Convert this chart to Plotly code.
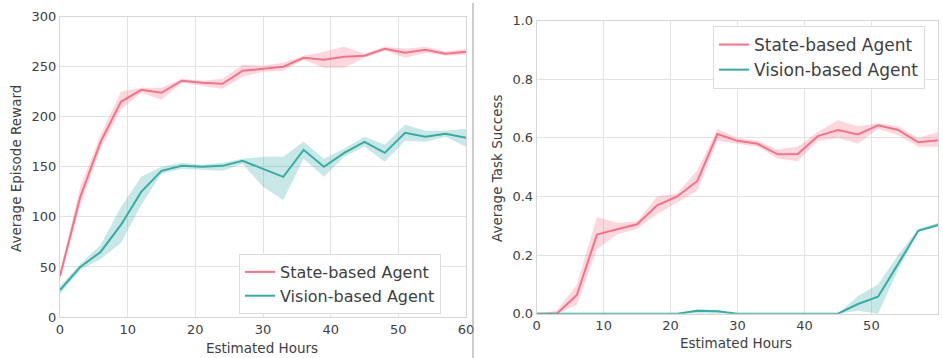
import plotly.graph_objects as go

# Training time in hours (evaluation every 3 hours)
hours = [0, 3, 6, 9, 12, 15, 18, 21, 24, 27, 30, 33, 36, 39, 42, 45, 48, 51, 54, 57, 60]

# Average episode reward
reward_state = [41, 120, 175, 215, 227, 224, 236, 234, 233, 246, 248, 250, 259, 257, 260, 261, 268, 264, 267, 263, 265]
reward_state_lo = [38, 112, 168, 207, 224, 217, 234, 231, 228, 240, 245, 246, 257, 249, 249, 259, 266, 259, 264, 261, 262]
reward_state_hi = [45, 130, 182, 225, 229, 229, 238, 236, 238, 252, 251, 254, 261, 265, 270, 263, 270, 268, 270, 265, 268]

reward_vision = [27, 50, 65, 92, 125, 146, 151, 150, 151, 156, 148, 140, 167, 150, 164, 175, 164, 184, 180, 183, 179]
reward_vision_lo = [23, 47, 58, 74, 112, 143, 148, 147, 146, 153, 130, 117, 158, 140, 160, 170, 155, 176, 175, 180, 170]
reward_vision_hi = [31, 53, 72, 110, 140, 150, 154, 152, 154, 158, 160, 160, 175, 158, 168, 180, 172, 192, 186, 186, 188]

# Average task success
success_state = [0.0, 0.0, 0.064, 0.27, 0.288, 0.305, 0.37, 0.40, 0.453, 0.613, 0.59, 0.58, 0.544, 0.545, 0.606, 0.627, 0.612, 0.643, 0.627, 0.585, 0.592]
success_state_lo = [0.0, 0.0, 0.03, 0.22, 0.27, 0.29, 0.34, 0.38, 0.42, 0.59, 0.58, 0.57, 0.53, 0.52, 0.59, 0.60, 0.58, 0.63, 0.61, 0.57, 0.57]
success_state_hi = [0.0, 0.01, 0.10, 0.33, 0.31, 0.315, 0.40, 0.41, 0.49, 0.63, 0.60, 0.59, 0.56, 0.57, 0.62, 0.66, 0.64, 0.65, 0.64, 0.60, 0.62]

success_vision = [0, 0, 0, 0, 0, 0, 0, 0, 0.01, 0.008, 0, 0, 0, 0, 0, 0, 0.033, 0.058, 0.17, 0.283, 0.303]
success_vision_lo = [0, 0, 0, 0, 0, 0, 0, 0, 0, 0, 0, 0, 0, 0, 0, 0, 0.01, 0.0, 0.15, 0.28, 0.30]
success_vision_hi = [0, 0, 0, 0, 0, 0, 0, 0, 0.015, 0.013, 0, 0, 0, 0, 0, 0, 0.06, 0.10, 0.20, 0.29, 0.31]

series_names = ["State-based Agent", "Vision-based Agent"]
line_colors = ["#f77189", "#36ada4"]
band_colors = ["rgba(247,113,137,0.28)", "rgba(54,173,164,0.28)"]

W, H = 943, 358
FONT = "DejaVu Sans"
TEXT = "#404040"

fig = go.Figure()


def add_series(x, mean, lo, hi, idx, xa, ya, legend):
    fig.add_trace(go.Scatter(x=x, y=hi, mode="lines", line=dict(width=0), xaxis=xa, yaxis=ya,
                             showlegend=False, hoverinfo="skip"))
    fig.add_trace(go.Scatter(x=x, y=lo, mode="lines", line=dict(width=0), fill="tonexty",
                             fillcolor=band_colors[idx], xaxis=xa, yaxis=ya,
                             showlegend=False, hoverinfo="skip"))
    fig.add_trace(go.Scatter(x=x, y=mean, mode="lines", name=series_names[idx],
                             line=dict(color=line_colors[idx], width=2),
                             xaxis=xa, yaxis=ya, legend=legend))


add_series(hours, reward_state, reward_state_lo, reward_state_hi, 0, "x", "y", "legend")
add_series(hours, reward_vision, reward_vision_lo, reward_vision_hi, 1, "x", "y", "legend")
add_series(hours, success_state, success_state_lo, success_state_hi, 0, "x2", "y2", "legend2")
add_series(hours, success_vision, success_vision_lo, success_vision_hi, 1, "x2", "y2", "legend2")

axis_common = dict(showgrid=True, gridcolor="#e3e3e3", gridwidth=1, showline=True, mirror=True,
                   linecolor="#d6d6d6", linewidth=1, zeroline=False, ticks="", automargin=False,
                   tickfont=dict(family=FONT, size=13, color=TEXT))

legend_common = dict(bgcolor="white", bordercolor="#dcdcdc", borderwidth=1, traceorder="normal",
                     xanchor="left", yanchor="top", tracegroupgap=0, itemwidth=30)

title_font = dict(family=FONT, size=13.5, color=TEXT)


def axis_title(text, x_px, y_px, angle=0):
    return dict(text=text, x=x_px / W, y=1 - y_px / H, xref="paper", yref="paper",
                xanchor="center", yanchor="middle", textangle=angle, showarrow=False,
                font=title_font)


fig.update_layout(
    width=W, height=H,
    margin=dict(l=0, r=0, t=0, b=0, autoexpand=False),
    paper_bgcolor="white", plot_bgcolor="white",
    showlegend=True,
    xaxis=dict(domain=[60 / W, 466 / W], range=[0, 60], tickvals=[0, 10, 20, 30, 40, 50, 60],
               anchor="y", **axis_common),
    yaxis=dict(domain=[1 - 317 / H, 1 - 16.7 / H], range=[0, 300],
               tickvals=[0, 50, 100, 150, 200, 250, 300], anchor="x", **axis_common),
    xaxis2=dict(domain=[536.7 / W, 938.3 / W], range=[0, 60], tickvals=[0, 10, 20, 30, 40, 50, 60],
                anchor="y2", **axis_common),
    yaxis2=dict(domain=[1 - 313.7 / H, 1 - 20.7 / H], range=[0, 1.0],
                tickvals=[0, 0.2, 0.4, 0.6, 0.8, 1.0], tickformat=".1f", anchor="x2", **axis_common),
    legend=dict(x=239 / W, y=1 - 254 / H, font=dict(family=FONT, size=16, color=TEXT),
                **legend_common),
    legend2=dict(x=713 / W, y=1 - 26 / H, font=dict(family=FONT, size=17, color=TEXT),
                 **legend_common),
    annotations=[
        axis_title("Average Episode Reward", 16, 169, -90),
        axis_title("Estimated Hours", 262, 348),
        axis_title("Average Task Success", 497, 168, -90),
        axis_title("Estimated Hours", 736, 343),
    ],
    shapes=[
        dict(type="line", xref="paper", yref="paper", x0=473 / W, x1=473 / W, y0=0, y1=1 - 3 / H,
             line=dict(color="#9a9a9a", width=1)),
    ],
)

fig.write_html("out.html")
